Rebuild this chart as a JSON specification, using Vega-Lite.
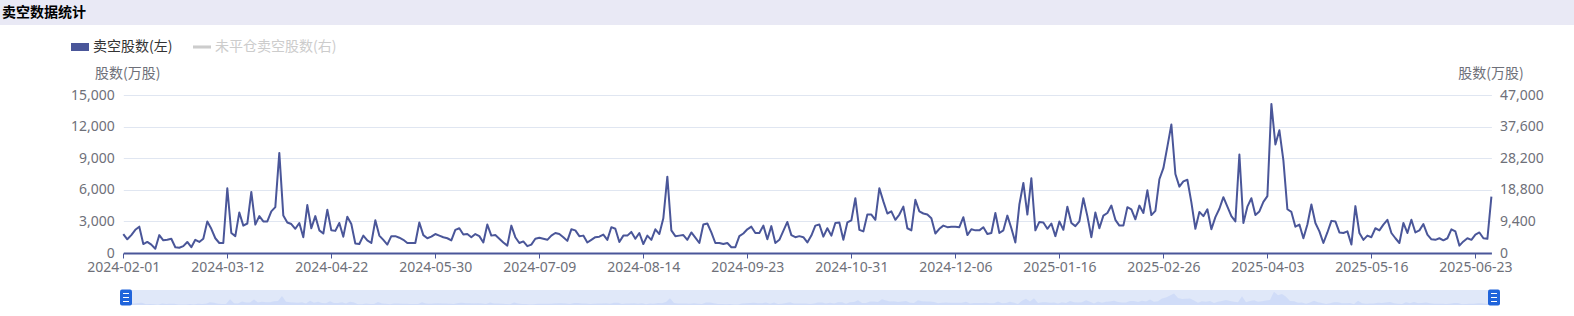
{
  "$schema": "https://vega.github.io/schema/vega-lite/v6.json",
  "padding": 0,
  "autosize": {"type": "pad"},
  "background": "white",
  "bounds": "full",
  "spacing": 13,
  "resolve": {"scale": {"x": "independent", "color": "independent"}, "legend": {"color": "independent"}},
  "config": {
    "font": "Noto Sans CJK SC",
    "view": {"stroke": null},
    "axis": {"labelFont": "Noto Sans", "labelFontSize": 14, "labelColor": "#6e7079", "titleFont": "Noto Sans CJK SC", "titleFontSize": 14, "titleFontWeight": "normal", "titleColor": "#6e7079"}
  },
  "datasets": {
    "short": [
      {"d":"2024-02-01","v":1800},{"d":"2024-02-02","v":1300},{"d":"2024-02-05","v":1700},{"d":"2024-02-06","v":2200},{"d":"2024-02-07","v":2500},{"d":"2024-02-08","v":850},{"d":"2024-02-09","v":1050},{"d":"2024-02-14","v":800},{"d":"2024-02-15","v":400},{"d":"2024-02-16","v":1700},
      {"d":"2024-02-19","v":1200},{"d":"2024-02-20","v":1250},{"d":"2024-02-21","v":1350},{"d":"2024-02-22","v":550},{"d":"2024-02-23","v":500},{"d":"2024-02-26","v":650},{"d":"2024-02-27","v":1050},{"d":"2024-02-28","v":550},{"d":"2024-02-29","v":1250},{"d":"2024-03-01","v":1050},
      {"d":"2024-03-04","v":1350},{"d":"2024-03-05","v":3000},{"d":"2024-03-06","v":2300},{"d":"2024-03-07","v":1400},{"d":"2024-03-08","v":950},{"d":"2024-03-11","v":950},{"d":"2024-03-12","v":6150},{"d":"2024-03-13","v":1900},{"d":"2024-03-14","v":1600},{"d":"2024-03-15","v":3850},
      {"d":"2024-03-18","v":2600},{"d":"2024-03-19","v":2800},{"d":"2024-03-20","v":5800},{"d":"2024-03-21","v":2700},{"d":"2024-03-22","v":3500},{"d":"2024-03-25","v":3000},{"d":"2024-03-26","v":3000},{"d":"2024-03-27","v":3950},{"d":"2024-03-28","v":4350},{"d":"2024-04-02","v":9500},
      {"d":"2024-04-03","v":3550},{"d":"2024-04-05","v":2900},{"d":"2024-04-08","v":2750},{"d":"2024-04-09","v":2300},{"d":"2024-04-10","v":2850},{"d":"2024-04-11","v":1500},{"d":"2024-04-12","v":4550},{"d":"2024-04-15","v":2350},{"d":"2024-04-16","v":3500},{"d":"2024-04-17","v":2150},
      {"d":"2024-04-18","v":1850},{"d":"2024-04-19","v":4100},{"d":"2024-04-22","v":2150},{"d":"2024-04-23","v":2100},{"d":"2024-04-24","v":2850},{"d":"2024-04-25","v":1550},{"d":"2024-04-26","v":3450},{"d":"2024-04-29","v":2750},{"d":"2024-04-30","v":900},{"d":"2024-05-02","v":850},
      {"d":"2024-05-03","v":1650},{"d":"2024-05-06","v":1200},{"d":"2024-05-07","v":950},{"d":"2024-05-08","v":3100},{"d":"2024-05-09","v":1650},{"d":"2024-05-10","v":1250},{"d":"2024-05-13","v":800},{"d":"2024-05-14","v":1600},{"d":"2024-05-16","v":1600},{"d":"2024-05-17","v":1450},
      {"d":"2024-05-20","v":1250},{"d":"2024-05-21","v":950},{"d":"2024-05-22","v":950},{"d":"2024-05-23","v":950},{"d":"2024-05-24","v":2900},{"d":"2024-05-27","v":1700},{"d":"2024-05-28","v":1400},{"d":"2024-05-29","v":1550},{"d":"2024-05-30","v":1800},{"d":"2024-05-31","v":1650},
      {"d":"2024-06-03","v":1500},{"d":"2024-06-04","v":1400},{"d":"2024-06-05","v":1200},{"d":"2024-06-06","v":2200},{"d":"2024-06-07","v":2350},{"d":"2024-06-11","v":1750},{"d":"2024-06-12","v":1800},{"d":"2024-06-13","v":1500},{"d":"2024-06-14","v":1800},{"d":"2024-06-17","v":1600},
      {"d":"2024-06-18","v":1000},{"d":"2024-06-19","v":2700},{"d":"2024-06-20","v":1650},{"d":"2024-06-21","v":1700},{"d":"2024-06-24","v":1350},{"d":"2024-06-25","v":1000},{"d":"2024-06-26","v":700},{"d":"2024-06-27","v":2600},{"d":"2024-06-28","v":1500},{"d":"2024-07-02","v":950},
      {"d":"2024-07-03","v":1100},{"d":"2024-07-04","v":650},{"d":"2024-07-05","v":800},{"d":"2024-07-08","v":1350},{"d":"2024-07-09","v":1450},{"d":"2024-07-10","v":1350},{"d":"2024-07-11","v":1250},{"d":"2024-07-12","v":1650},{"d":"2024-07-15","v":1900},{"d":"2024-07-16","v":1800},
      {"d":"2024-07-17","v":1500},{"d":"2024-07-18","v":1150},{"d":"2024-07-19","v":2250},{"d":"2024-07-22","v":2150},{"d":"2024-07-23","v":1600},{"d":"2024-07-24","v":1650},{"d":"2024-07-25","v":1000},{"d":"2024-07-26","v":1250},{"d":"2024-07-29","v":1500},{"d":"2024-07-30","v":1550},
      {"d":"2024-07-31","v":1750},{"d":"2024-08-01","v":1250},{"d":"2024-08-02","v":2450},{"d":"2024-08-05","v":2300},{"d":"2024-08-06","v":1050},{"d":"2024-08-07","v":1650},{"d":"2024-08-08","v":1650},{"d":"2024-08-09","v":2000},{"d":"2024-08-12","v":1350},{"d":"2024-08-13","v":1900},
      {"d":"2024-08-14","v":850},{"d":"2024-08-15","v":1650},{"d":"2024-08-16","v":1250},{"d":"2024-08-19","v":2250},{"d":"2024-08-20","v":1800},{"d":"2024-08-21","v":3300},{"d":"2024-08-22","v":7250},{"d":"2024-08-23","v":2150},{"d":"2024-08-26","v":1600},{"d":"2024-08-27","v":1650},
      {"d":"2024-08-28","v":1700},{"d":"2024-08-29","v":1250},{"d":"2024-08-30","v":1950},{"d":"2024-09-02","v":1450},{"d":"2024-09-03","v":950},{"d":"2024-09-04","v":2700},{"d":"2024-09-05","v":2800},{"d":"2024-09-09","v":1950},{"d":"2024-09-10","v":950},{"d":"2024-09-11","v":950},
      {"d":"2024-09-12","v":850},{"d":"2024-09-13","v":950},{"d":"2024-09-16","v":550},{"d":"2024-09-17","v":550},{"d":"2024-09-19","v":1600},{"d":"2024-09-20","v":1850},{"d":"2024-09-23","v":2250},{"d":"2024-09-24","v":2500},{"d":"2024-09-25","v":1900},{"d":"2024-09-26","v":1900},
      {"d":"2024-09-27","v":2600},{"d":"2024-09-30","v":1300},{"d":"2024-10-02","v":2550},{"d":"2024-10-03","v":950},{"d":"2024-10-04","v":1250},{"d":"2024-10-07","v":2100},{"d":"2024-10-08","v":2950},{"d":"2024-10-09","v":1700},{"d":"2024-10-10","v":1500},{"d":"2024-10-14","v":1600},
      {"d":"2024-10-15","v":1500},{"d":"2024-10-16","v":1000},{"d":"2024-10-17","v":1650},{"d":"2024-10-18","v":2600},{"d":"2024-10-21","v":2700},{"d":"2024-10-22","v":1550},{"d":"2024-10-23","v":2350},{"d":"2024-10-24","v":1650},{"d":"2024-10-25","v":2850},{"d":"2024-10-28","v":2900},
      {"d":"2024-10-29","v":1250},{"d":"2024-10-30","v":2900},{"d":"2024-10-31","v":3100},{"d":"2024-11-01","v":5200},{"d":"2024-11-04","v":2200},{"d":"2024-11-05","v":2050},{"d":"2024-11-06","v":3650},{"d":"2024-11-07","v":3650},{"d":"2024-11-08","v":3150},{"d":"2024-11-11","v":6150},
      {"d":"2024-11-12","v":4900},{"d":"2024-11-13","v":3750},{"d":"2024-11-14","v":3950},{"d":"2024-11-15","v":3150},{"d":"2024-11-18","v":3650},{"d":"2024-11-19","v":4400},{"d":"2024-11-20","v":2350},{"d":"2024-11-21","v":2150},{"d":"2024-11-22","v":5050},{"d":"2024-11-25","v":3950},
      {"d":"2024-11-26","v":3750},{"d":"2024-11-27","v":3650},{"d":"2024-11-28","v":3300},{"d":"2024-11-29","v":1850},{"d":"2024-12-02","v":2300},{"d":"2024-12-03","v":2600},{"d":"2024-12-04","v":2450},{"d":"2024-12-05","v":2500},{"d":"2024-12-06","v":2500},{"d":"2024-12-09","v":2450},
      {"d":"2024-12-10","v":3400},{"d":"2024-12-11","v":1700},{"d":"2024-12-12","v":2250},{"d":"2024-12-13","v":2150},{"d":"2024-12-16","v":2150},{"d":"2024-12-17","v":2450},{"d":"2024-12-18","v":1800},{"d":"2024-12-19","v":1900},{"d":"2024-12-20","v":3800},{"d":"2024-12-23","v":1900},
      {"d":"2024-12-24","v":2150},{"d":"2024-12-27","v":3550},{"d":"2024-12-30","v":2350},{"d":"2024-12-31","v":1000},{"d":"2025-01-02","v":4600},{"d":"2025-01-03","v":6650},{"d":"2025-01-06","v":3650},{"d":"2025-01-07","v":7100},{"d":"2025-01-08","v":2150},{"d":"2025-01-09","v":2950},
      {"d":"2025-01-10","v":2900},{"d":"2025-01-13","v":2300},{"d":"2025-01-14","v":2800},{"d":"2025-01-15","v":1600},{"d":"2025-01-16","v":3000},{"d":"2025-01-17","v":2200},{"d":"2025-01-20","v":4400},{"d":"2025-01-21","v":2850},{"d":"2025-01-22","v":2550},{"d":"2025-01-23","v":3000},
      {"d":"2025-01-24","v":5200},{"d":"2025-01-27","v":3500},{"d":"2025-01-28","v":1500},{"d":"2025-02-03","v":3850},{"d":"2025-02-04","v":2350},{"d":"2025-02-05","v":3550},{"d":"2025-02-06","v":3800},{"d":"2025-02-07","v":4500},{"d":"2025-02-10","v":3150},{"d":"2025-02-11","v":2600},
      {"d":"2025-02-12","v":2600},{"d":"2025-02-13","v":4350},{"d":"2025-02-14","v":4150},{"d":"2025-02-17","v":3200},{"d":"2025-02-18","v":4500},{"d":"2025-02-19","v":3800},{"d":"2025-02-20","v":5950},{"d":"2025-02-21","v":3600},{"d":"2025-02-24","v":4000},{"d":"2025-02-25","v":7000},
      {"d":"2025-02-26","v":8050},{"d":"2025-02-27","v":10100},{"d":"2025-02-28","v":12200},{"d":"2025-03-03","v":7500},{"d":"2025-03-04","v":6300},{"d":"2025-03-05","v":6800},{"d":"2025-03-06","v":6950},{"d":"2025-03-07","v":4800},{"d":"2025-03-10","v":2300},{"d":"2025-03-11","v":3900},
      {"d":"2025-03-12","v":3500},{"d":"2025-03-13","v":4150},{"d":"2025-03-14","v":2250},{"d":"2025-03-17","v":3400},{"d":"2025-03-18","v":4200},{"d":"2025-03-19","v":5300},{"d":"2025-03-20","v":4400},{"d":"2025-03-21","v":3500},{"d":"2025-03-24","v":3000},{"d":"2025-03-25","v":9350},
      {"d":"2025-03-26","v":2850},{"d":"2025-03-27","v":4400},{"d":"2025-03-28","v":5200},{"d":"2025-03-31","v":3600},{"d":"2025-04-01","v":3950},{"d":"2025-04-02","v":4850},{"d":"2025-04-03","v":5400},{"d":"2025-04-07","v":14150},{"d":"2025-04-08","v":10300},{"d":"2025-04-09","v":11650},
      {"d":"2025-04-10","v":8800},{"d":"2025-04-11","v":4150},{"d":"2025-04-14","v":3900},{"d":"2025-04-15","v":2500},{"d":"2025-04-16","v":2700},{"d":"2025-04-17","v":1400},{"d":"2025-04-22","v":2700},{"d":"2025-04-23","v":4600},{"d":"2025-04-24","v":2850},{"d":"2025-04-25","v":2050},
      {"d":"2025-04-28","v":950},{"d":"2025-04-29","v":1950},{"d":"2025-04-30","v":3050},{"d":"2025-05-02","v":3000},{"d":"2025-05-06","v":1950},{"d":"2025-05-07","v":1900},{"d":"2025-05-08","v":2050},{"d":"2025-05-09","v":800},{"d":"2025-05-12","v":4450},{"d":"2025-05-13","v":1900},
      {"d":"2025-05-14","v":1250},{"d":"2025-05-15","v":1650},{"d":"2025-05-16","v":1500},{"d":"2025-05-19","v":2350},{"d":"2025-05-20","v":2150},{"d":"2025-05-21","v":2700},{"d":"2025-05-22","v":3150},{"d":"2025-05-23","v":1900},{"d":"2025-05-26","v":1400},{"d":"2025-05-27","v":950},
      {"d":"2025-05-28","v":2850},{"d":"2025-05-29","v":1900},{"d":"2025-05-30","v":3150},{"d":"2025-06-02","v":1950},{"d":"2025-06-03","v":2150},{"d":"2025-06-04","v":2750},{"d":"2025-06-05","v":1750},{"d":"2025-06-06","v":1300},{"d":"2025-06-09","v":1250},{"d":"2025-06-10","v":1400},
      {"d":"2025-06-11","v":1200},{"d":"2025-06-12","v":1400},{"d":"2025-06-13","v":2250},{"d":"2025-06-16","v":2050},{"d":"2025-06-17","v":700},{"d":"2025-06-18","v":1100},{"d":"2025-06-19","v":1400},{"d":"2025-06-20","v":1250},{"d":"2025-06-23","v":1750},{"d":"2025-06-24","v":1950},
      {"d":"2025-06-25","v":1400},{"d":"2025-06-26","v":1350},{"d":"2025-06-27","v":5350}
    ]
  },
  "vconcat": [
    {
      "width": 1574,
      "height": 25,
      "view": {"fill": "#e9e9f5", "stroke": null},
      "data": {"values": [{"t": "卖空数据统计"}]},
      "mark": {"type": "text", "align": "left", "baseline": "middle", "dx": 2, "fontSize": 14, "fontWeight": "bold", "color": "#000000", "font": "Noto Sans CJK SC"},
      "encoding": {
        "text": {"field": "t"},
        "x": {"field": "t", "type": "nominal", "scale": {"type": "band", "paddingInner": 0, "paddingOuter": 0}, "bandPosition": 0, "axis": null}
      }
    },
    {
      "width": 1574,
      "height": 158,
      "resolve": {"scale": {"y": "independent"}, "axis": {"y": "independent"}},
      "layer": [
        {
          "data": {"name": "short"},
          "mark": {"type": "line", "strokeWidth": 2, "strokeJoin": "round"},
          "encoding": {
            "x": {
              "field": "d", "type": "ordinal",
              "scale": {"type": "point", "padding": 0, "range": [123.3, 1491.4]},
              "axis": {
                "title": null,
                "values": ["2024-02-01","2024-03-12","2024-04-22","2024-05-30","2024-07-09","2024-08-14","2024-09-23","2024-10-31","2024-12-06","2025-01-16","2025-02-26","2025-04-03","2025-05-16","2025-06-23"],
                "labelAngle": 0, "labelAlign": "center", "labelBaseline": "top", "labelPadding": 2, "labelOverlap": false, "labelFlush": false,
                "domainColor": "#4a5699", "domainWidth": 2, "tickColor": "#4a5699", "tickSize": 5, "tickWidth": 1, "grid": false
              }
            },
            "y": {
              "field": "v", "type": "quantitative",
              "scale": {"domain": [0, 15000]},
              "axis": {
                "orient": "left", "offset": -123.3, "title": "股数(万股)", "values": [0, 3000, 6000, 9000, 12000, 15000], "format": ",d",
                "domain": false, "ticks": false, "labelPadding": 9, "labelBaseline": "middle",
                "grid": true, "gridColor": "#e0e6f1", "gridWidth": 1,
                "titleAngle": 0, "titleAlign": "center", "titleBaseline": "middle", "titleX": 4, "titleY": -22
              }
            },
            "color": {
              "datum": "卖空股数(左)", "type": "nominal",
              "scale": {"domain": ["卖空股数(左)", "未平仓卖空股数(右)"], "range": ["#4a5699", "#cccccc"]},
              "legend": {
                "orient": "none", "legendX": 71, "legendY": -57, "direction": "horizontal", "title": null,
                "labelFont": "Noto Sans CJK SC", "labelFontSize": 14, "labelOffset": 4, "columnPadding": 20, "padding": 0,
                "symbolSize": 324, "symbolStrokeWidth": 0,
                "encode": {
                  "symbols": {"update": {
                    "shape": {"signal": "datum.value === '卖空股数(左)' ? 'M-1,-0.444H1V0.444H-1Z' : 'M-1,-0.17H1V0.17H-1Z'"},
                    "fill": {"signal": "datum.value === '卖空股数(左)' ? '#4a5699' : '#cccccc'"},
                    "strokeWidth": {"value": 0},
                    "opacity": {"value": 1}
                  }},
                  "labels": {"update": {
                    "fill": {"signal": "datum.value === '卖空股数(左)' ? '#333333' : '#cccccc'"}
                  }}
                }
              }
            }
          }
        },
        {
          "data": {"values": []},
          "mark": {"type": "line", "strokeWidth": 2},
          "encoding": {
            "y": {
              "field": "u", "type": "quantitative",
              "scale": {"domain": [0, 47000]},
              "axis": {
                "orient": "right", "offset": -82.6, "title": "股数(万股)", "values": [0, 9400, 18800, 28200, 37600, 47000], "format": ",d",
                "domain": false, "ticks": false, "grid": false, "labelPadding": 8, "labelBaseline": "middle",
                "titleAngle": 0, "titleAlign": "center", "titleBaseline": "middle", "titleX": -1, "titleY": -22
              }
            },
            "color": {"datum": "未平仓卖空股数(右)", "type": "nominal"}
          }
        }
      ]
    },
    {
      "width": 1574,
      "height": 15,
      "layer": [
        {
          "data": {"name": "short"},
          "mark": {"type": "rule", "color": "#e0e8f9", "strokeWidth": 4.6, "opacity": 1},
          "encoding": {
            "x": {"field": "d", "type": "ordinal", "scale": {"type": "point", "padding": 0, "range": [126, 1494]}, "axis": null}
          }
        },
        {
          "data": {"name": "short"},
          "mark": {"type": "area", "color": "#8fb0f7", "opacity": 0.2},
          "encoding": {
            "x": {"field": "d", "type": "ordinal"},
            "y": {"field": "v", "type": "quantitative", "axis": null}
          }
        },
        {
          "data": {"name": "short"},
          "transform": [{"filter": "datum.d === '2024-02-01' || datum.d === '2025-06-27'"}],
          "mark": {"type": "point", "filled": true, "color": "#2064db", "opacity": 1, "size": 256,
                   "shape": "M-0.5,-1H0.5Q0.75,-1 0.75,-0.75V0.75Q0.75,1 0.5,1H-0.5Q-0.75,1 -0.75,0.75V-0.75Q-0.75,-1 -0.5,-1Z"},
          "encoding": {"x": {"field": "d", "type": "ordinal"}}
        },
        {
          "data": {"name": "short"},
          "transform": [{"filter": "datum.d === '2024-02-01' || datum.d === '2025-06-27'"}],
          "mark": {"type": "point", "filled": false, "color": "#ffffff", "opacity": 1, "size": 256, "strokeWidth": 1.2,
                   "shape": "M-0.375,-0.5H0.375M-0.375,0H0.375M-0.375,0.5H0.375"},
          "encoding": {"x": {"field": "d", "type": "ordinal"}}
        }
      ]
    }
  ]
}
